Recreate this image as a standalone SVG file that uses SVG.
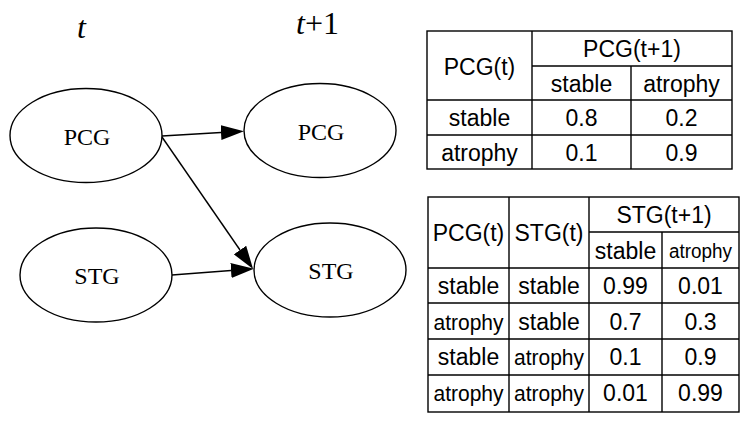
<svg xmlns="http://www.w3.org/2000/svg" width="751" height="423" viewBox="0 0 751 423">
<style>
.node ellipse{fill:#fff;stroke:#000;stroke-width:1.4}
.nl{font-family:"Liberation Serif",serif;font-size:24px;text-anchor:middle;fill:#000}
.edge{stroke:#000;stroke-width:1.4;fill:none;marker-end:url(#ah)}
.hdr{font-family:"Liberation Serif",serif;font-size:32px;fill:#000}
.tb rect,.tb line{stroke:#000;stroke-width:1.4;fill:none}
.tt{font-family:"Liberation Sans",Arial,sans-serif;font-size:23px;text-anchor:middle;fill:#000}
.tt.sm{font-size:22px}
.tt.xs{font-size:20px}
</style>
<defs>
<marker id="ah" viewBox="0 0 23 15" refX="0" refY="7.5" markerWidth="23" markerHeight="15" markerUnits="userSpaceOnUse" orient="auto">
<path d="M0,0 L23,7.5 L0,15 z" fill="#000"/>
</marker>
</defs>
<rect width="751" height="423" fill="#fff"/>
<text class="hdr" x="77" y="38" font-style="italic">t</text>
<text class="hdr" x="296" y="34"><tspan font-style="italic">t</tspan>+1</text>
<g id="connectors">
<line class="edge" x1="162" y1="136" x2="221" y2="132.5"/>
<line class="edge" x1="162" y1="137" x2="240" y2="250"/>
<line class="edge" x1="172" y1="275" x2="231" y2="270.5"/>
</g>
<g id="pcg_t" class="node"><ellipse cx="86" cy="135.5" rx="76" ry="47"/><text class="nl" x="87" y="145">PCG</text></g>
<g id="stg_t" class="node"><ellipse cx="96" cy="275" rx="76" ry="47"/><text class="nl" x="97" y="284">STG</text></g>
<g id="pcg_t1" class="node"><ellipse cx="320" cy="130.5" rx="76" ry="47"/><text class="nl" x="321" y="140">PCG</text></g>
<g id="stg_t1" class="node"><ellipse cx="330" cy="270" rx="76" ry="47"/><text class="nl" x="331" y="279">STG</text></g>
<g id="table1" class="tb">
<rect x="427" y="31" width="305" height="138"/>
<line x1="532" y1="31" x2="532" y2="169"/>
<line x1="631" y1="66" x2="631" y2="169"/>
<line x1="532" y1="66" x2="732" y2="66"/>
<line x1="427" y1="100" x2="732" y2="100"/>
<line x1="427" y1="135" x2="732" y2="135"/>
<text class="tt" x="479.5" y="74.5">PCG(t)</text>
<text class="tt" x="632" y="57">PCG(t+1)</text>
<text class="tt" x="581.5" y="91.5">stable</text>
<text class="tt" x="681.5" y="91.5">atrophy</text>
<text class="tt" x="479.5" y="126">stable</text>
<text class="tt" x="581.5" y="126">0.8</text>
<text class="tt" x="681.5" y="126">0.2</text>
<text class="tt" x="479.5" y="160.5">atrophy</text>
<text class="tt" x="581.5" y="160.5">0.1</text>
<text class="tt" x="681.5" y="160.5">0.9</text>
</g>
<g id="table2" class="tb">
<rect x="428" y="197" width="311" height="215"/>
<line x1="509" y1="197" x2="509" y2="412"/>
<line x1="589" y1="197" x2="589" y2="412"/>
<line x1="662" y1="232" x2="662" y2="412"/>
<line x1="589" y1="232" x2="739" y2="232"/>
<line x1="428" y1="268" x2="739" y2="268"/>
<line x1="428" y1="303" x2="739" y2="303"/>
<line x1="428" y1="339" x2="739" y2="339"/>
<line x1="428" y1="375" x2="739" y2="375"/>
<text class="tt" x="468.5" y="241">PCG(t)</text>
<text class="tt" x="549" y="241">STG(t)</text>
<text class="tt" x="664" y="223">STG(t+1)</text>
<text class="tt" x="625.5" y="258.5">stable</text>
<text class="tt xs" x="700.5" y="257.5" textLength="63" lengthAdjust="spacingAndGlyphs">atrophy</text>
<text class="tt" x="468.5" y="294">stable</text>
<text class="tt" x="549" y="294">stable</text>
<text class="tt" x="625.5" y="294">0.99</text>
<text class="tt" x="700.5" y="294">0.01</text>
<text class="tt sm" x="468.5" y="330" textLength="70" lengthAdjust="spacingAndGlyphs">atrophy</text>
<text class="tt" x="549" y="330">stable</text>
<text class="tt" x="625.5" y="330">0.7</text>
<text class="tt" x="700.5" y="330">0.3</text>
<text class="tt" x="468.5" y="365">stable</text>
<text class="tt sm" x="549" y="365" textLength="70" lengthAdjust="spacingAndGlyphs">atrophy</text>
<text class="tt" x="625.5" y="365">0.1</text>
<text class="tt" x="700.5" y="365">0.9</text>
<text class="tt sm" x="468.5" y="401" textLength="70" lengthAdjust="spacingAndGlyphs">atrophy</text>
<text class="tt sm" x="549" y="401" textLength="70" lengthAdjust="spacingAndGlyphs">atrophy</text>
<text class="tt" x="625.5" y="401">0.01</text>
<text class="tt" x="700.5" y="401">0.99</text>
</g>
</svg>
